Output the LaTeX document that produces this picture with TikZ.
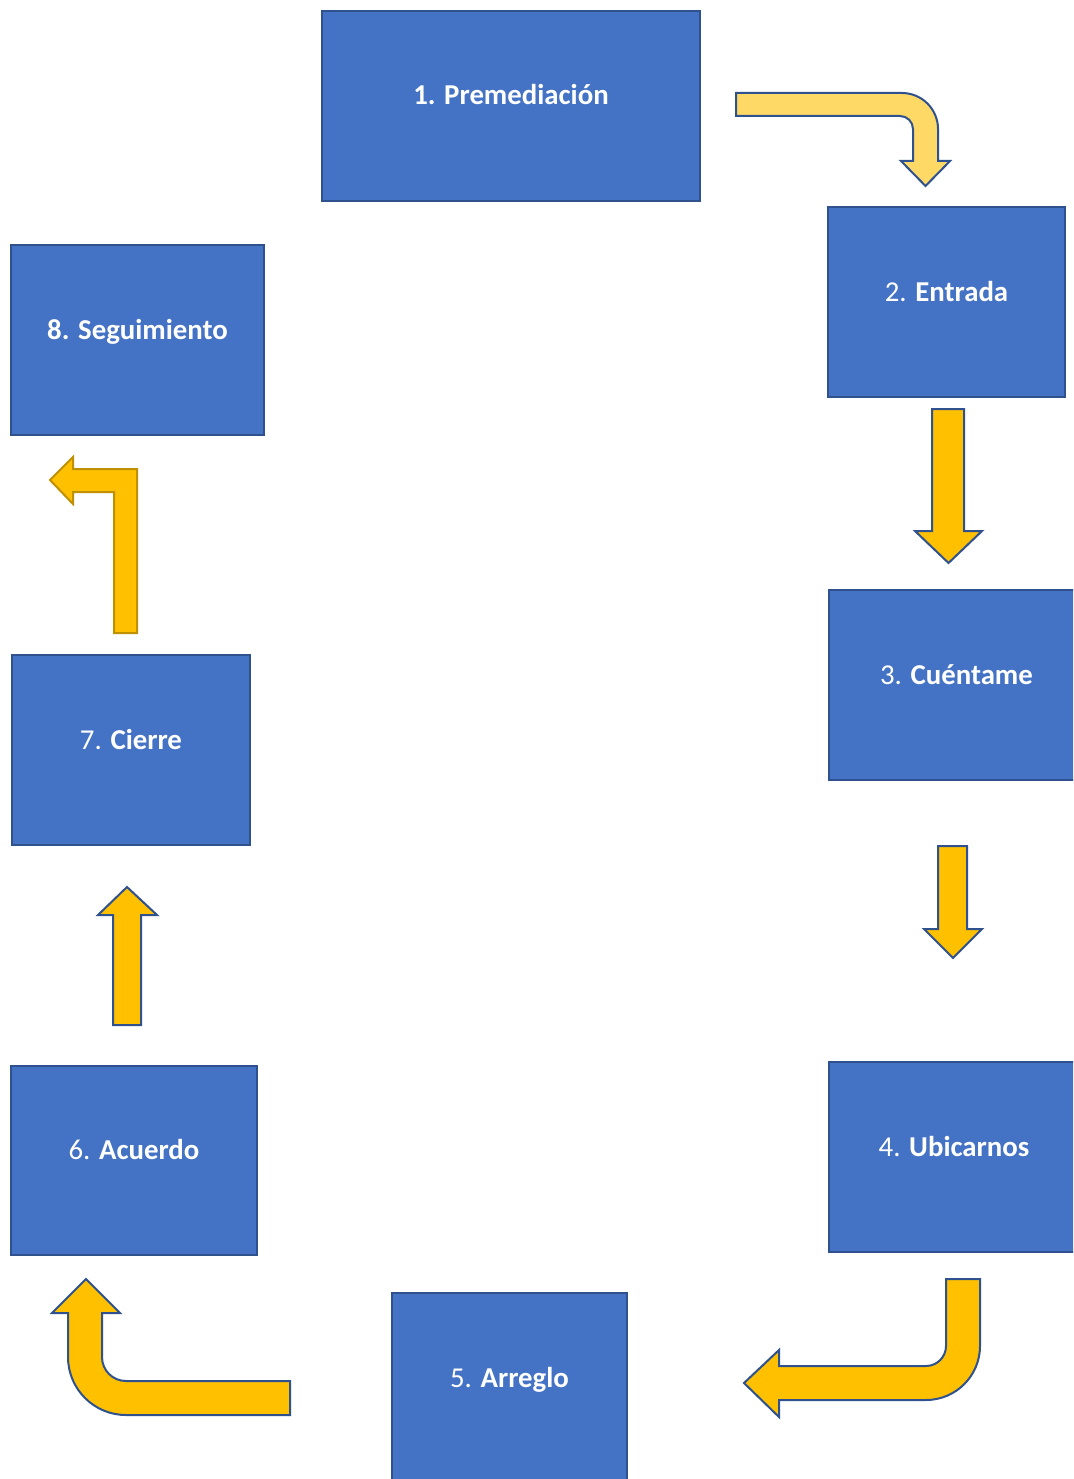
\documentclass[tikz,border=0pt]{standalone}
\usepackage{fontspec}
\setmainfont{Carlito}
\definecolor{boxfill}{HTML}{4472C4}
\definecolor{boxline}{HTML}{2F528F}
\definecolor{arrfill}{HTML}{FFC000}
\definecolor{arrlight}{HTML}{FFD966}
\definecolor{arrdark}{HTML}{BF9000}
\tikzset{
  box/.style={draw=boxline, fill=boxfill, line width=2pt, rectangle, inner sep=0pt},
  lbl/.style={anchor=base, text=white, inner sep=0pt, font=\fontsize{28.8}{34}\selectfont},
  blockarrow/.style={draw=boxline, fill=arrfill, line width=2pt, line join=miter},
}
\begin{document}
\begin{tikzpicture}[x=1pt,y=-1pt]
\useasboundingbox (0,0) rectangle (1073,1479);
\clip (0,0) rectangle (1073,1479);
\fill[white] (0,0) rectangle (1073,1479);
% boxes
\node[box, minimum width=378pt, minimum height=190pt] (b1) at (511,106) {};
\node[box, minimum width=237pt, minimum height=190pt] (b2) at (946.5,302) {};
\node[box, minimum width=255pt, minimum height=190pt] (b3) at (956.5,685) {};
\node[box, minimum width=250pt, minimum height=190pt] (b4) at (954,1157) {};
\node[box, minimum width=235pt, minimum height=190pt] (b5) at (509.5,1388) {};
\node[box, minimum width=246pt, minimum height=189pt] (b6) at (134,1160.5) {};
\node[box, minimum width=238pt, minimum height=190pt] (b7) at (131,750) {};
\node[box, minimum width=253pt, minimum height=190pt] (b8) at (137.5,340) {};
% labels
\node[lbl] (t1) at (511,105) {\textbf{1. Premediación}};
\node[lbl] (t2) at (946.5,301) {2. \textbf{Entrada}};
\node[lbl] (t3) at (956.5,684) {3. \textbf{Cuéntame}};
\node[lbl] (t4) at (954,1156) {4. \textbf{Ubicarnos}};
\node[lbl] (t5) at (509.5,1387) {5. \textbf{Arreglo}};
\node[lbl] (t6) at (134,1159.5) {6. \textbf{Acuerdo}};
\node[lbl] (t7) at (131,749) {7. \textbf{Cierre}};
\node[lbl] (t8) at (137.5,339) {\textbf{8. Seguimiento}};
% arrow 1 -> 2
\draw[blockarrow, fill=arrlight] (736,93) -- (902,93) .. controls (921.9,93) and (938,109.1) .. (938,129)
  -- (938,161) -- (950,161) -- (925.5,186) -- (901,161) -- (913,161) -- (913,129)
  .. controls (913,121.8) and (907.2,116) .. (900,116) -- (736,116) -- cycle;
% arrow 2 -> 3
\draw[blockarrow] (932,409) -- (964,409) -- (964,531) -- (982,531) -- (948.5,563) -- (915,531) -- (932,531) -- cycle;
% arrow 3 -> 4
\draw[blockarrow] (938,846) -- (967,846) -- (967,929) -- (982,929) -- (953,958) -- (924,929) -- (938,929) -- cycle;
% arrow 4 -> 5
\draw[blockarrow] (946,1279) -- (980,1279) -- (980,1346) .. controls (980,1375.8) and (955.8,1400) .. (926,1400)
  -- (779,1400) -- (779,1417) -- (744,1383) -- (779,1350) -- (779,1366) -- (926,1366)
  .. controls (937,1366) and (946,1357) .. (946,1346) -- cycle;
% arrow 5 -> 6
\draw[blockarrow] (290,1381) -- (290,1415) -- (126,1415) .. controls (94,1415) and (68,1389) .. (68,1357)
  -- (68,1313) -- (52,1313) -- (86,1279) -- (120,1313) -- (102,1313) -- (102,1357)
  .. controls (102,1370.3) and (112.7,1381) .. (126,1381) -- cycle;
% arrow 6 -> 7
\draw[blockarrow] (113,1025) -- (141,1025) -- (141,915) -- (157,915) -- (127,887) -- (98,915) -- (113,915) -- cycle;
% arrow 7 -> 8
\draw[blockarrow, draw=arrdark] (114,633) -- (137,633) -- (137,469) -- (73,469) -- (73,457) -- (50,480) -- (73,504) -- (73,492) -- (114,492) -- cycle;
\end{tikzpicture}
\end{document}
